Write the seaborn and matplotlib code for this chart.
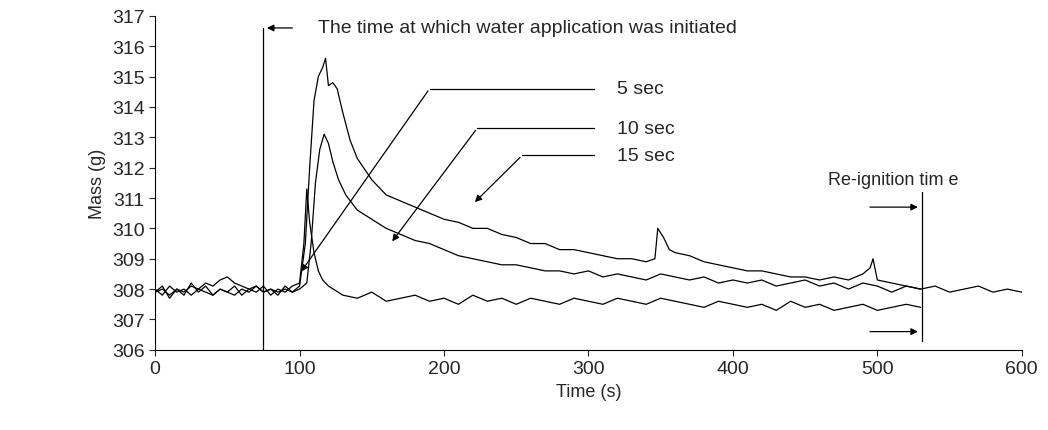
import numpy as np
import pandas as pd
import matplotlib
matplotlib.use("Agg")
import matplotlib.pyplot as plt
import seaborn as sns

# time grid (s) for each series
t5 = [0, 5, 10, 15, 20, 25, 30, 35, 40, 45, 50, 55, 60, 65, 70, 75, 80, 85, 90, 95, 100,
      103, 105, 107, 110, 113, 116, 120, 130, 140, 150, 160, 170, 180, 190, 200, 210, 220,
      230, 240, 250, 260, 270, 280, 290, 300, 310, 320, 330, 340, 350, 360, 370, 380, 390,
      400, 410, 420, 430, 440, 450, 460, 470, 480, 490, 500, 510, 520, 530]
m5 = [307.9, 308.1, 307.7, 308.0, 307.8, 308.2, 307.9, 308.1, 307.8, 308.0, 307.9, 308.1,
      307.8, 308.0, 307.9, 308.1, 307.8, 308.0, 307.9, 308.1, 308.2,
      309.5, 311.3, 310.2, 309.2, 308.6, 308.3, 308.1, 307.8, 307.7, 307.9, 307.6, 307.7,
      307.8, 307.6, 307.7, 307.5, 307.8, 307.6, 307.7, 307.5, 307.7, 307.6, 307.5, 307.7,
      307.6, 307.5, 307.7, 307.6, 307.5, 307.7, 307.6, 307.5, 307.4, 307.6, 307.5, 307.4,
      307.5, 307.3, 307.6, 307.4, 307.5, 307.3, 307.4, 307.5, 307.3, 307.4, 307.5, 307.4]

t10 = [0, 5, 10, 15, 20, 25, 30, 35, 40, 45, 50, 55, 60, 65, 70, 75, 80, 85, 90, 95, 100,
       105, 108, 111, 114, 117, 120, 123, 127, 132, 140, 150, 160, 170, 180, 190, 200, 210,
       220, 230, 240, 250, 260, 270, 280, 290, 300, 310, 320, 330, 340, 350, 360, 370, 380,
       390, 400, 410, 420, 430, 440, 450, 460, 470, 480, 490, 500, 510, 520, 530, 540, 550,
       560, 570, 580, 590, 600]
m10 = [308.0, 307.8, 308.1, 307.9, 308.0, 307.8, 308.0, 307.9, 307.8, 308.0, 307.9, 307.8,
       308.0, 307.9, 308.1, 307.9, 308.0, 307.8, 308.1, 307.9, 308.0,
       308.2, 309.5, 311.5, 312.6, 313.1, 312.8, 312.2, 311.6, 311.1, 310.6, 310.3, 310.0,
       309.8, 309.6, 309.5, 309.3, 309.1, 309.0, 308.9, 308.8, 308.8, 308.7, 308.6, 308.6,
       308.5, 308.6, 308.4, 308.5, 308.4, 308.3, 308.5, 308.4, 308.3, 308.4, 308.2, 308.3,
       308.2, 308.3, 308.1, 308.2, 308.3, 308.1, 308.2, 308.0, 308.2, 308.1, 307.9, 308.1,
       308.0, 308.1, 307.9, 308.0, 308.1, 307.9, 308.0, 307.9]

t15 = [0, 5, 10, 15, 20, 25, 30, 35, 40, 45, 50, 55, 60, 65, 70, 75, 80, 85, 90, 95, 100,
       104, 107, 110, 113, 116, 118, 120, 123, 126, 130, 135, 140, 150, 160, 170, 180, 190,
       200, 210, 220, 230, 240, 250, 260, 270, 280, 290, 300, 310, 320, 330, 340, 346, 348,
       352, 356, 360, 370, 380, 390, 400, 410, 420, 430, 440, 450, 460, 470, 480, 490, 495,
       497, 500, 510, 520, 530]
m15 = [307.9, 308.0, 307.8, 308.0, 307.9, 308.1, 308.0, 308.2, 308.1, 308.3, 308.4, 308.2,
       308.1, 308.0, 308.1, 307.9, 308.0, 307.9, 308.0, 307.9, 308.1,
       309.5, 312.0, 314.2, 315.0, 315.3, 315.6, 314.7, 314.8, 314.6, 313.8, 312.9, 312.3,
       311.6, 311.1, 310.9, 310.7, 310.5, 310.3, 310.2, 310.0, 310.0, 309.8, 309.7, 309.5,
       309.5, 309.3, 309.3, 309.2, 309.1, 309.0, 309.0, 308.9, 309.0, 310.0, 309.7, 309.3,
       309.2, 309.1, 308.9, 308.8, 308.7, 308.6, 308.6, 308.5, 308.4, 308.4, 308.3, 308.4,
       308.3, 308.5, 308.7, 309.0, 308.3, 308.2, 308.1, 308.0]

df = pd.concat([
    pd.DataFrame({"t": t5, "m": m5, "s": "5 sec"}),
    pd.DataFrame({"t": t10, "m": m10, "s": "10 sec"}),
    pd.DataFrame({"t": t15, "m": m15, "s": "15 sec"}),
])

sns.set_style("white")
plt.rcParams["font.family"] = ["Liberation Sans", "DejaVu Sans"]

fig, ax = plt.subplots(figsize=(10.48, 4.31), dpi=100)
fig.subplots_adjust(left=0.148, right=0.975, bottom=0.186, top=0.961)
sns.lineplot(data=df, x="t", y="m", units="s", estimator=None, color="black",
             linewidth=0.9, legend=False, ax=ax)

ax.set_xlim(0, 600)
ax.set_ylim(306, 317)
ax.set_xticks(range(0, 601, 100))
ax.set_yticks(range(306, 318))
ax.tick_params(labelsize=14, direction="out", length=4, left=True, bottom=True)
ax.set_xlabel("Time (s)", fontsize=13)
ax.set_ylabel("Mass (g)", fontsize=13)
sns.despine(ax=ax)
for sp in ax.spines.values():
    sp.set_color("black")
    sp.set_linewidth(0.8)

arrow = dict(arrowstyle="-|>", color="black", lw=0.9, mutation_scale=10)
# water application marker
ax.plot([75, 75], [306, 316.6], color="black", lw=0.9)
ax.annotate("", xy=(75.5, 316.6), xytext=(97, 316.6), arrowprops=arrow)
ax.text(113, 316.6, "The time at which water application was initiated",
        fontsize=14, va="center")

# series labels with leader lines
for lab, y, xs, tip in [("5 sec", 314.6, 190, (100, 308.5)),
                        ("10 sec", 313.3, 223, (163, 309.5)),
                        ("15 sec", 312.4, 254, (220, 310.8))]:
    ax.plot([xs, 304], [y, y], color="black", lw=0.9)
    ax.annotate("", xy=tip, xytext=(xs, y), arrowprops=arrow)
    ax.text(320, y, lab, fontsize=14, va="center")

# re-ignition marker
ax.plot([531, 531], [306.3, 311.2], color="black", lw=0.9)
ax.annotate("", xy=(530, 310.7), xytext=(493, 310.7), arrowprops=arrow)
ax.annotate("", xy=(530, 306.6), xytext=(493, 306.6), arrowprops=arrow)
ax.text(466, 311.6, "Re-ignition tim e", fontsize=13, va="center")

fig.savefig("out.png", dpi=100)
